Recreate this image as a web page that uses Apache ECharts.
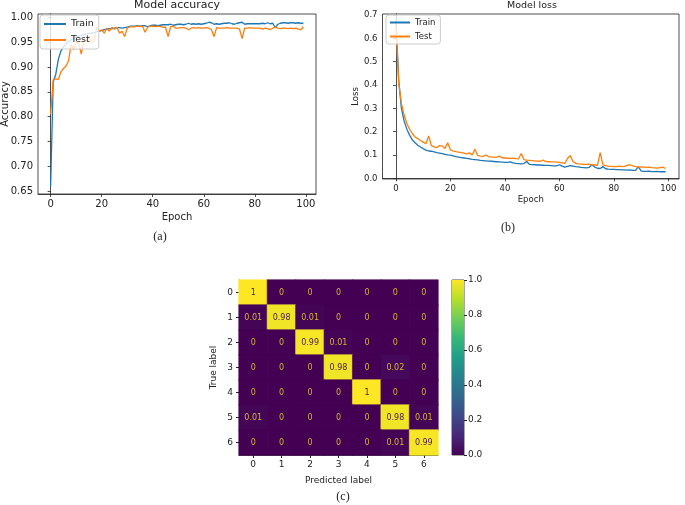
<!DOCTYPE html>
<html>
<head>
<meta charset="utf-8">
<script src="https://cdn.jsdelivr.net/npm/echarts@6/dist/echarts.min.js"></script>
<style>
  html, body { margin: 0; padding: 0; background: #fff; }
  #main { width: 685px; height: 505px; }
</style>
</head>
<body>
<div id="main"></div>
<script>
// epochs 0..99
var epochs = [];
for (var i = 0; i < 100; i++) epochs.push(i);

var accTrain = [0.660,0.870,0.885,0.915,0.932,0.940,0.947,0.951,0.955,0.958,
  0.960,0.962,0.963,0.965,0.966,0.967,0.968,0.969,0.971,0.972,
  0.973,0.975,0.976,0.977,0.977,0.978,0.979,0.979,0.978,0.979,
  0.980,0.982,0.982,0.982,0.983,0.982,0.983,0.983,0.981,0.983,
  0.984,0.984,0.983,0.984,0.985,0.985,0.985,0.986,0.984,0.985,
  0.986,0.986,0.985,0.986,0.988,0.986,0.987,0.986,0.987,0.986,
  0.987,0.988,0.990,0.989,0.986,0.987,0.986,0.987,0.988,0.988,
  0.989,0.987,0.986,0.988,0.989,0.990,0.986,0.987,0.987,0.987,
  0.987,0.987,0.987,0.988,0.987,0.989,0.987,0.988,0.979,0.986,
  0.988,0.989,0.989,0.988,0.989,0.989,0.988,0.989,0.988,0.988];

var accTest = [0.805,0.875,0.876,0.875,0.890,0.897,0.902,0.912,0.945,0.935,
  0.950,0.948,0.926,0.955,0.950,0.962,0.950,0.952,0.980,0.972,
  0.975,0.968,0.978,0.972,0.980,0.976,0.980,0.968,0.972,0.961,
  0.978,0.981,0.981,0.981,0.982,0.981,0.982,0.970,0.980,0.982,
  0.982,0.981,0.982,0.981,0.980,0.980,0.961,0.981,0.982,0.978,
  0.978,0.979,0.979,0.978,0.975,0.978,0.979,0.978,0.979,0.978,
  0.978,0.979,0.978,0.975,0.961,0.979,0.978,0.978,0.978,0.979,
  0.978,0.978,0.978,0.978,0.976,0.957,0.978,0.978,0.979,0.978,
  0.978,0.978,0.978,0.976,0.978,0.977,0.975,0.978,0.980,0.978,
  0.977,0.978,0.978,0.977,0.978,0.977,0.978,0.976,0.975,0.981];

var lossTrain = [0.680,0.420,0.300,0.245,0.210,0.185,0.165,0.152,0.142,0.134,
  0.127,0.121,0.117,0.116,0.113,0.110,0.108,0.106,0.103,0.100,
  0.099,0.096,0.093,0.091,0.089,0.087,0.085,0.083,0.081,0.080,
  0.079,0.077,0.076,0.075,0.074,0.073,0.072,0.071,0.070,0.069,
  0.068,0.068,0.070,0.066,0.064,0.063,0.062,0.063,0.072,0.060,
  0.059,0.058,0.057,0.057,0.056,0.055,0.055,0.054,0.053,0.053,
  0.058,0.052,0.048,0.051,0.054,0.052,0.050,0.049,0.047,0.046,
  0.045,0.047,0.058,0.048,0.043,0.042,0.050,0.041,0.039,0.038,
  0.038,0.037,0.037,0.036,0.036,0.035,0.036,0.034,0.034,0.050,
  0.032,0.030,0.030,0.031,0.029,0.029,0.030,0.028,0.028,0.028];

var lossTest = [0.660,0.410,0.320,0.270,0.235,0.210,0.192,0.177,0.170,0.162,
  0.155,0.148,0.182,0.140,0.135,0.132,0.140,0.138,0.128,0.152,
  0.122,0.117,0.114,0.112,0.110,0.108,0.105,0.109,0.100,0.125,
  0.098,0.095,0.094,0.100,0.093,0.092,0.090,0.091,0.095,0.088,
  0.087,0.086,0.085,0.086,0.084,0.083,0.106,0.080,0.078,0.077,
  0.076,0.075,0.074,0.073,0.078,0.072,0.071,0.070,0.070,0.069,
  0.068,0.066,0.064,0.085,0.098,0.072,0.064,0.062,0.061,0.060,
  0.060,0.061,0.058,0.057,0.056,0.110,0.058,0.054,0.052,0.051,
  0.050,0.050,0.052,0.050,0.051,0.056,0.058,0.053,0.050,0.048,
  0.049,0.048,0.047,0.048,0.046,0.045,0.044,0.046,0.048,0.042];

var classes = ['0', '1', '2', '3', '4', '5', '6'];
// rows = true label, cols = predicted label
var confusion = [
  [1, 0, 0, 0, 0, 0, 0],
  [0.01, 0.98, 0.01, 0, 0, 0, 0],
  [0, 0, 0.99, 0.01, 0, 0, 0],
  [0, 0, 0, 0.98, 0, 0.02, 0],
  [0, 0, 0, 0, 1, 0, 0],
  [0.01, 0, 0, 0, 0, 0.98, 0.01],
  [0, 0, 0, 0, 0, 0.01, 0.99]
];

var epochTicks = [0, 20, 40, 60, 80, 100];
var accTicks = [0.65, 0.70, 0.75, 0.80, 0.85, 0.90, 0.95, 1.00];
var lossTicks = [0.0, 0.1, 0.2, 0.3, 0.4, 0.5, 0.6, 0.7];

var viridis = ['#440154', '#482878', '#3e4989', '#31688e', '#26828e',
  '#1f9e89', '#35b779', '#6ece58', '#b5de2b', '#fde725'];

var blue = '#1f77b4', orange = '#ff7f0e';
var font = 'DejaVu Sans';

function pairs(ys) {
  return ys.map(function (v, i) { return [epochs[i], v]; });
}

// colour from the viridis stops (same as the colour bar)
function cmap(v) {
  var t = Math.max(0, Math.min(1, v)) * (viridis.length - 1);
  var k = Math.min(Math.floor(t), viridis.length - 2);
  var f = t - k;
  var a = viridis[k], b = viridis[k + 1];
  var out = '#';
  for (var j = 1; j < 7; j += 2) {
    var ca = parseInt(a.substr(j, 2), 16), cb = parseInt(b.substr(j, 2), 16);
    var c = Math.round(ca + (cb - ca) * f).toString(16);
    out += c.length < 2 ? '0' + c : c;
  }
  return out;
}

var heatData = [];
confusion.forEach(function (row, r) {
  row.forEach(function (v, c) {
    var col = cmap(v);
    heatData.push({
      value: [c, r, v],
      itemStyle: { color: col, borderColor: col, borderWidth: 0.6 },
      label: { color: v > 0.5 ? '#4a1a55' : '#d6b42c' }
    });
  });
});

var colorStops = viridis.slice().reverse().map(function (c, i) {
  return { offset: i / (viridis.length - 1), color: c };
});

function valueX(grid, ticks, min, max, fs, gap) {
  return {
    type: 'value', gridIndex: grid, min: min, max: max,
    name: 'Epoch', nameLocation: 'middle', nameGap: gap, nameMoveOverlap: false,
    nameTextStyle: { fontFamily: font, fontSize: fs, color: '#222' },
    axisLine: { show: true, lineStyle: { color: '#222', width: 0.8 } },
    axisTick: { show: true, length: 3, customValues: ticks, lineStyle: { color: '#222', width: 0.8 } },
    axisLabel: { customValues: ticks, fontFamily: font, fontSize: fs, color: '#222', margin: 5 },
    splitLine: { show: false }
  };
}

function valueY(grid, ticks, min, max, fs, name, dec, gap) {
  return {
    type: 'value', gridIndex: grid, min: min, max: max,
    name: name, nameLocation: 'middle', nameGap: gap, nameRotate: 90, nameMoveOverlap: false,
    nameTextStyle: { fontFamily: font, fontSize: fs, color: '#222' },
    axisLine: { show: true, lineStyle: { color: '#222', width: 0.8 } },
    axisTick: { show: true, length: 3, customValues: ticks, lineStyle: { color: '#222', width: 0.8 } },
    axisLabel: {
      customValues: ticks, fontFamily: font, fontSize: fs, color: '#222', margin: 5,
      formatter: function (v) { return v.toFixed(dec); }
    },
    splitLine: { show: false }
  };
}

var myChart = echarts.init(document.getElementById('main'));
var option = {
  animation: false,
  backgroundColor: '#fff',
  grid: [
    { left: 38, top: 14, width: 278, height: 180, show: true, borderColor: '#222', borderWidth: 0.8, outerBoundsMode: 'none' },
    { left: 382.5, top: 14, width: 296.5, height: 165, show: true, borderColor: '#222', borderWidth: 0.8, outerBoundsMode: 'none' },
    { left: 239, top: 280, width: 199, height: 175, outerBoundsMode: 'none' },
    { left: 452, top: 280, width: 12, height: 175, show: true, borderColor: '#222', borderWidth: 0.8, outerBoundsMode: 'none' }
  ],
  xAxis: [
    valueX(0, epochTicks, -4.95, 103.95, 10, 18),
    valueX(1, epochTicks, -4.95, 103.95, 8.5, 16),
    {
      type: 'category', gridIndex: 2, data: classes,
      name: 'Predicted label', nameLocation: 'middle', nameGap: 21,
      nameTextStyle: { fontFamily: font, fontSize: 9, color: '#222' },
      axisLine: { show: true, lineStyle: { color: '#222', width: 0.8 } },
      axisTick: { show: true, alignWithLabel: true, length: 3, lineStyle: { color: '#222' } },
      axisLabel: { fontFamily: font, fontSize: 9, color: '#222', margin: 5 }
    },
    { type: 'category', gridIndex: 3, data: [''], show: false }
  ],
  yAxis: [
    valueY(0, accTicks, 0.6446, 1.0066, 10, 'Accuracy', 2, 28),
    valueY(1, lossTicks, -0.003, 0.7043, 8.5, 'Loss', 1, 22),
    {
      type: 'category', gridIndex: 2, data: classes, inverse: true,
      name: 'True label', nameLocation: 'middle', nameGap: 21, nameRotate: 90,
      nameTextStyle: { fontFamily: font, fontSize: 9, color: '#222' },
      axisLine: { show: true, lineStyle: { color: '#222', width: 0.8 } },
      axisTick: { show: true, alignWithLabel: true, length: 3, lineStyle: { color: '#222' } },
      axisLabel: { fontFamily: font, fontSize: 9, color: '#222', margin: 6 }
    },
    {
      type: 'value', gridIndex: 3, min: 0, max: 1, interval: 0.2, position: 'right',
      axisLine: { show: false },
      axisTick: { show: true, length: 3, lineStyle: { color: '#222' } },
      axisLabel: { fontFamily: font, fontSize: 9, color: '#222', margin: 4,
        formatter: function (v) { return v.toFixed(1); } },
      splitLine: { show: false }
    }
  ],
  legend: [
    {
      data: ['Train', 'Test'], orient: 'vertical', left: 40, top: 15,
      itemWidth: 22, itemHeight: 2, itemGap: 6, icon: 'rect',
      padding: [4, 5, 4, 4], borderColor: '#ccc', borderWidth: 1, borderRadius: 3,
      backgroundColor: 'rgba(255,255,255,0.8)',
      textStyle: { fontFamily: font, fontSize: 9.5, color: '#222' }
    },
    {
      data: ['Train', 'Test'], orient: 'vertical', left: 386, top: 15,
      itemWidth: 20, itemHeight: 2, itemGap: 5, icon: 'rect',
      padding: [3, 5, 3, 4], borderColor: '#ccc', borderWidth: 1, borderRadius: 3,
      backgroundColor: 'rgba(255,255,255,0.8)',
      textStyle: { fontFamily: font, fontSize: 8.5, color: '#222' }
    }
  ],
  graphic: [
    { type: 'text', x: 177, y: 0, style: { text: 'Model accuracy', font: '11px "DejaVu Sans"', fill: '#222', textAlign: 'center' } },
    { type: 'text', x: 532, y: 1, style: { text: 'Model loss', font: '9.5px "DejaVu Sans"', fill: '#222', textAlign: 'center' } },
    { type: 'text', x: 160, y: 231, style: { text: '(a)', font: '12px "Liberation Serif"', fill: '#222', textAlign: 'center' } },
    { type: 'text', x: 508, y: 222, style: { text: '(b)', font: '12px "Liberation Serif"', fill: '#222', textAlign: 'center' } },
    { type: 'text', x: 343, y: 491, style: { text: '(c)', font: '12px "Liberation Serif"', fill: '#222', textAlign: 'center' } }
  ],
  series: [
    { name: 'Train', type: 'line', xAxisIndex: 0, yAxisIndex: 0, data: pairs(accTrain),
      showSymbol: false, lineStyle: { color: blue, width: 1.3 }, itemStyle: { color: blue } },
    { name: 'Test', type: 'line', xAxisIndex: 0, yAxisIndex: 0, data: pairs(accTest),
      showSymbol: false, lineStyle: { color: orange, width: 1.3 }, itemStyle: { color: orange } },
    { name: 'Train', type: 'line', xAxisIndex: 1, yAxisIndex: 1, data: pairs(lossTrain),
      showSymbol: false, lineStyle: { color: blue, width: 1.3 }, itemStyle: { color: blue } },
    { name: 'Test', type: 'line', xAxisIndex: 1, yAxisIndex: 1, data: pairs(lossTest),
      showSymbol: false, lineStyle: { color: orange, width: 1.3 }, itemStyle: { color: orange } },
    { type: 'heatmap', xAxisIndex: 2, yAxisIndex: 2, data: heatData,
      label: { show: true, fontFamily: font, fontSize: 8,
        formatter: function (p) { return String(p.value[2]); } } },
    { type: 'bar', xAxisIndex: 3, yAxisIndex: 3, data: [1], barWidth: '100%', silent: true,
      itemStyle: { color: new echarts.graphic.LinearGradient(0, 0, 0, 1, colorStops) } }
  ]
};
myChart.setOption(option);
</script>
</body>
</html>
